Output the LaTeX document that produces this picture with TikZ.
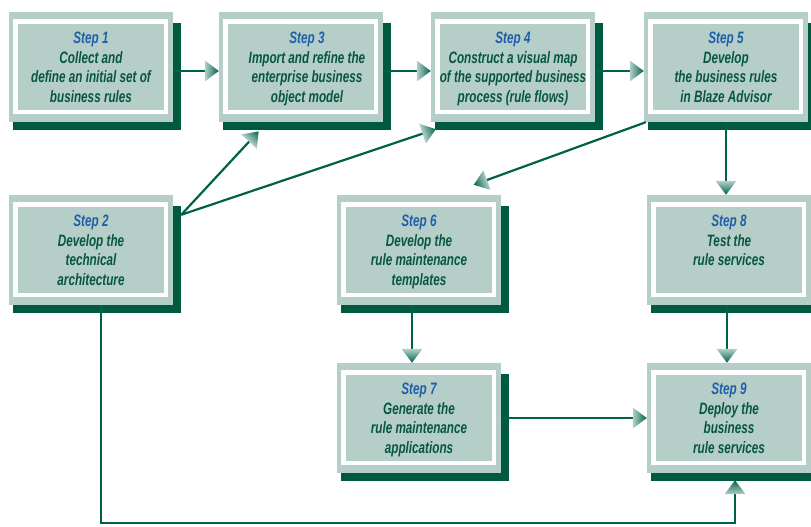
\documentclass[tikz,border=0pt]{standalone}
\usepackage{fontspec}
\newfontfamily\stepfont{Liberation Sans}[FakeStretch=0.71]
\usetikzlibrary{decorations.markings,backgrounds}

\definecolor{boxlight}{HTML}{B5CFC8}
\definecolor{shadowgreen}{HTML}{005A40}
\definecolor{linegreen}{HTML}{00614A}
\definecolor{headlight}{HTML}{B3D1C8}
\definecolor{stepblue}{HTML}{1F5EA8}
\definecolor{textgreen}{HTML}{07563F}

\tikzset{
  stepbox/.style={rectangle, fill=boxlight, minimum width=164pt,
    minimum height=110pt, inner sep=0pt, text=textgreen,
    path picture={\draw[white, line width=4.5pt]
      ([shift={(6.5pt,-9.5pt)}]path picture bounding box.north west) rectangle
      ([shift={(-7pt,10pt)}]path picture bounding box.south east);}},
  flowarrow/.style={draw=linegreen, line width=2.2pt, shorten >=8pt,
    postaction={decorate, decoration={markings, mark=at position 1 with
      {\pgflowlevelsynccm
       \shade[left color=headlight, right color=linegreen, draw=none]
         (-14pt,-10.5pt) -- (0pt,0pt) -- (-14pt,10.5pt) -- cycle;}}}}
}

% text block of one step: blue title, green description, top aligned
\newcommand\steptext[2]{\parbox[c][110pt][t]{164pt}{\stepfont\bfseries\itshape
  \fontsize{16.5}{19.7}\selectfont\centering
  \rule{0pt}{31.5pt}{\color{stepblue}Step #1}\\#2}}

\begin{document}
\begin{tikzpicture}[x=1pt,y=1pt]
\useasboundingbox (0,0) rectangle (811,527);

% the nine steps
\node[stepbox] (s1) at (91,460)  {\steptext{1}{Collect and\\define an initial set of\\business rules}};
\node[stepbox] (s3) at (301,460) {\hspace*{6pt}\steptext{3}{Import and refine the\\enterprise business\\object model}\hspace*{-6pt}};
\node[stepbox] (s4) at (513,460) {\steptext{4}{Construct a visual map\\of the supported business\\process (rule flows)}};
\node[stepbox] (s5) at (726,460) {\steptext{5}{Develop\\the business rules\\in Blaze Advisor}};
\node[stepbox] (s2) at (91,277)  {\steptext{2}{Develop the\\technical\\architecture}};
\node[stepbox] (s6) at (419,277) {\steptext{6}{Develop the\\rule maintenance\\templates}};
\node[stepbox] (s8) at (729,277) {\steptext{8}{Test the\\rule services}};
\node[stepbox] (s7) at (419,109) {\steptext{7}{Generate the\\rule maintenance\\applications}};
\node[stepbox] (s9) at (729,109) {\steptext{9}{Deploy the\\business\\rule services}};

% drop shadows behind the boxes
\begin{scope}[on background layer]
  \foreach \n in {s1,s2,s3,s4,s5,s6,s7,s8,s9}
    \fill[shadowgreen] ([shift={(4pt,-11pt)}]\n.north west)
      rectangle ([shift={(8pt,-8pt)}]\n.south east);
\end{scope}

% connectors
\draw[flowarrow] ([yshift=-4pt]s1.east) -- ([yshift=-4pt]s1.east -| s3.west);
\draw[flowarrow] ([yshift=-4pt]s3.east) -- ([yshift=-4pt]s3.east -| s4.west);
\draw[flowarrow] ([yshift=-4pt]s4.east) -- ([yshift=-4pt]s4.east -| s5.west);
\draw[flowarrow] ([shift={(8pt,-20pt)}]s2.north east) -- ([shift={(40pt,-9pt)}]s3.south west);
\draw[flowarrow] ([shift={(8pt,-20pt)}]s2.north east) -- ([shift={(5pt,-7pt)}]s4.south west);
\draw[flowarrow] ([xshift=2pt]s5.south west) -- ([shift={(137pt,10pt)}]s6.north west);
\draw[flowarrow] (s5.south) -- (s5.south |- s8.north);
\draw[flowarrow] ([xshift=-7pt]s6.south) -- ([xshift=-7pt]s6.south |- s7.north);
\draw[flowarrow] ([xshift=-2pt]s8.south) -- ([xshift=-2pt]s8.south |- s9.north);
\draw[flowarrow] (s7.east) -- (s7.east -| s9.west);
\coordinate (loopcorner) at (101,4);
\draw[flowarrow, line width=1.8pt] ([xshift=10pt]s2.south) |- (loopcorner)
  -| ([shift={(6pt,-7pt)}]s9.south);
\end{tikzpicture}
\end{document}
